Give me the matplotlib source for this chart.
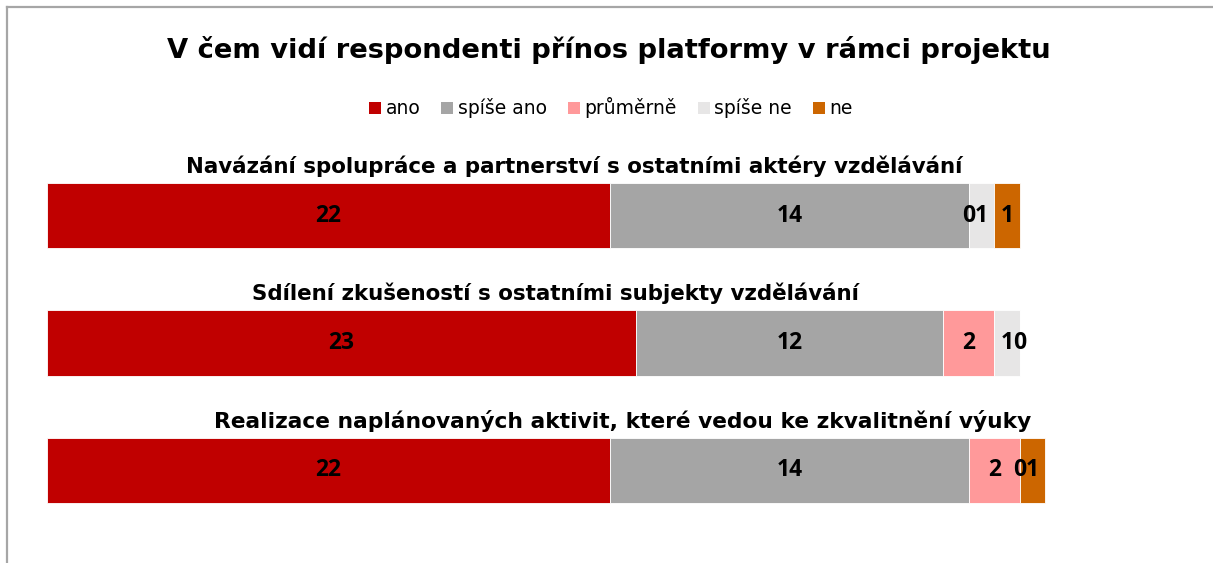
import matplotlib
matplotlib.use('Agg')
import matplotlib.pyplot as plt
from matplotlib.lines import Line2D
from matplotlib.patches import Patch

plt.rcParams['font.family'] = ['DejaVu Sans']

title = 'V čem vidí respondenti přínos platformy v rámci projektu'
categories = [
    'Navázání spolupráce a partnerství s ostatními aktéry vzdělávání',
    'Sdílení zkušeností s ostatními subjekty vzdělávání',
    'Realizace naplánovaných aktivit, které vedou ke zkvalitnění výuky',
]
series = ['ano', 'spíše ano', 'průměrně', 'spíše ne', 'ne']
values = [
    [22, 23, 22],   # ano
    [14, 12, 14],   # spíše ano
    [0, 2, 2],      # průměrně
    [1, 1, 0],      # spíše ne
    [1, 0, 1],      # ne
]
colors = ['#C00000', '#A5A5A5', '#FF999A', '#E7E6E6', '#CC6600']

# horizontal centre of each category caption (data units)
cat_x = [20.6, 19.85, 22.5]

W, H = 1213, 563
fig = plt.figure(figsize=(W / 100, H / 100), dpi=100)
ax = fig.add_axes([47 / W, 16 / H, 1152 / W, 408 / H])

bar_h = 0.51
ypos = list(range(len(categories)))
left = [0] * len(categories)
for name, vals, col in zip(series, values, colors):
    ax.barh(ypos, vals, left=left, height=bar_h, color=col,
            edgecolor='white', linewidth=0.6, label=name)
    for y, v, l in zip(ypos, vals, left):
        ax.text(l + v / 2, y, str(v), ha='center', va='center',
                fontsize=16.5, fontweight='bold', color='black',
                family=['Open Sans', 'DejaVu Sans'])
    left = [a + b for a, b in zip(left, vals)]

for y, cat, cx, fs in zip(ypos, categories, cat_x, [15.4, 15.4, 15.7]):
    ax.text(cx, y - bar_h / 2 - 0.08, cat, ha='center', va='baseline',
            fontsize=fs, fontweight='bold')

ax.set_xlim(0, 45)
ax.set_ylim(2.6, -0.6)
ax.axis('off')

fig.text(609 / W, 1 - 50 / H, title, ha='center', va='center',
         fontsize=19.7, fontweight='bold')

handles = [Patch(facecolor=c, edgecolor='none') for c in colors]
fig.legend(handles, series, loc='center', bbox_to_anchor=(611 / W, 1 - 108 / H),
           ncol=5, frameon=False, fontsize=13.5, handlelength=0.65,
           handleheight=0.65, handletextpad=0.25, columnspacing=1.1)

# chart area border (top and left visible)
border = '#A6A6A6'
fig.add_artist(Line2D([7 / W, 7 / W], [0, 1 - 7 / H], color=border, lw=1.6))
fig.add_artist(Line2D([7 / W, 1], [1 - 7 / H, 1 - 7 / H], color=border, lw=1.6))

fig.savefig('out.png', dpi=100)
